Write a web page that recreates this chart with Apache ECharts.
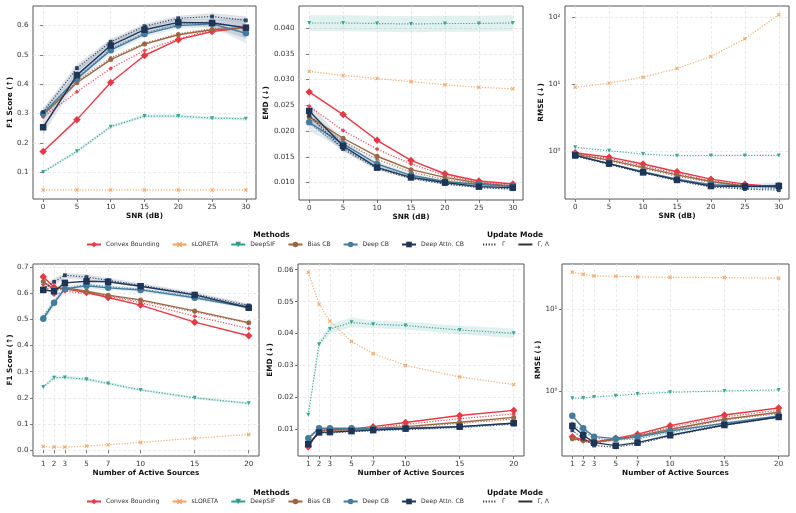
<!DOCTYPE html>
<html><head><meta charset="utf-8">
<script src="https://cdn.jsdelivr.net/npm/echarts@6/dist/echarts.min.js"></script>
<style>html,body{margin:0;padding:0;background:#fff}#c{width:796px;height:513px}</style>
</head><body><div id="c"></div><script>
// ---------- x values / ticks ----------
const snrX = [0, 5, 10, 15, 20, 25, 30];
const srcX = [1, 2, 3, 5, 7, 10, 15, 20];
const snrTicks = [0, 5, 10, 15, 20, 25, 30];
const srcTicks = [1, 2, 3, 5, 7, 10, 15, 20];
const f1SnrTicks = [0.1, 0.2, 0.3, 0.4, 0.5, 0.6];
const emdSnrTicks = [0.010, 0.015, 0.020, 0.025, 0.030, 0.035, 0.040];
const rmseSnrTicks = [1, 10, 100];
const f1SrcTicks = [0.0, 0.1, 0.2, 0.3, 0.4, 0.5, 0.6, 0.7];
const emdSrcTicks = [0.01, 0.02, 0.03, 0.04, 0.05, 0.06];
const rmseSrcTicks = [1, 10];
const methodNames = ['Convex Bounding', 'sLORETA', 'DeepSIF', 'Bias CB', 'Deep CB', 'Deep Attn. CB'];
const modeNames = ['Γ', 'Γ, Λ'];

// ---------- F1 vs SNR ----------
const fsConvexG  = [0.288, 0.374, 0.454, 0.515, 0.555, 0.586, 0.592];
const fsConvexGL = [0.170, 0.279, 0.406, 0.498, 0.552, 0.580, 0.593];
const fsSloreta  = [0.039, 0.039, 0.039, 0.039, 0.039, 0.039, 0.039];
const fsDeepsif  = [0.100, 0.171, 0.255, 0.291, 0.291, 0.284, 0.282];
const fsBiasG    = [0.290, 0.410, 0.490, 0.540, 0.572, 0.590, 0.595];
const fsBiasGL   = [0.296, 0.405, 0.484, 0.537, 0.569, 0.586, 0.593];
const fsDeepG    = [0.302, 0.420, 0.520, 0.575, 0.605, 0.612, 0.590];
const fsDeepGL   = [0.299, 0.419, 0.516, 0.571, 0.600, 0.606, 0.574];
const fsAttnG    = [0.305, 0.455, 0.545, 0.598, 0.625, 0.631, 0.618];
const fsAttnGL   = [0.253, 0.431, 0.532, 0.586, 0.611, 0.609, 0.593];
const fsAttnGLLo = [0.228, 0.410, 0.518, 0.575, 0.600, 0.595, 0.555];
const fsAttnGLHi = [0.278, 0.450, 0.546, 0.597, 0.622, 0.622, 0.625];
const fsDeepGLLo = [0.282, 0.402, 0.503, 0.561, 0.590, 0.594, 0.540];
const fsDeepGLHi = [0.316, 0.436, 0.529, 0.581, 0.610, 0.618, 0.605];
const fsAttnGLo  = [0.292, 0.440, 0.535, 0.590, 0.616, 0.620, 0.604];
const fsAttnGHi  = [0.318, 0.468, 0.555, 0.606, 0.634, 0.642, 0.632];
const fsDeepsifLo = [0.095, 0.165, 0.249, 0.285, 0.285, 0.278, 0.276];
const fsDeepsifHi = [0.105, 0.177, 0.261, 0.297, 0.297, 0.290, 0.288];

// ---------- EMD vs SNR ----------
const esConvexG  = [0.0248, 0.0201, 0.0165, 0.0136, 0.0114, 0.0101, 0.0095];
const esConvexGL = [0.0276, 0.0232, 0.0182, 0.0143, 0.0117, 0.0103, 0.0097];
const esSloreta  = [0.0316, 0.0308, 0.0302, 0.0296, 0.0290, 0.0285, 0.0282];
const esDeepsif  = [0.0410, 0.0410, 0.0409, 0.0408, 0.0409, 0.0409, 0.0410];
const esBiasG    = [0.0225, 0.0180, 0.0145, 0.0120, 0.0106, 0.0097, 0.0092];
const esBiasGL   = [0.0228, 0.0186, 0.0151, 0.0125, 0.0110, 0.0099, 0.0093];
const esDeepG    = [0.0215, 0.0167, 0.0130, 0.0110, 0.0098, 0.0092, 0.0088];
const esDeepGL   = [0.0217, 0.0175, 0.0136, 0.0114, 0.0102, 0.0096, 0.0093];
const esAttnG    = [0.0230, 0.0165, 0.0127, 0.0108, 0.0097, 0.0090, 0.0087];
const esAttnGL   = [0.0239, 0.0171, 0.0129, 0.0110, 0.0100, 0.0092, 0.0090];
const esDeepsifLo = [0.0394, 0.0394, 0.0393, 0.0392, 0.0393, 0.0393, 0.0394];
const esDeepsifHi = [0.0425, 0.0425, 0.0424, 0.0423, 0.0424, 0.0424, 0.0425];
const esAttnGLLo = [0.0215, 0.0160, 0.0124, 0.0106, 0.0096, 0.0089, 0.0086];
const esAttnGLHi = [0.0255, 0.0180, 0.0135, 0.0114, 0.0103, 0.0096, 0.0093];
const esDeepGLLo = [0.0200, 0.0165, 0.0130, 0.0110, 0.0099, 0.0093, 0.0090];
const esDeepGLHi = [0.0232, 0.0184, 0.0142, 0.0118, 0.0105, 0.0099, 0.0096];

// ---------- RMSE vs SNR ----------
const rsConvexG  = [0.92, 0.77, 0.60, 0.46, 0.36, 0.31, 0.29];
const rsConvexGL = [0.944, 0.81, 0.64, 0.49, 0.38, 0.32, 0.29];
const rsSloreta  = [8.97, 10.3, 12.7, 17.1, 25.9, 47.7, 109];
const rsDeepsif  = [1.135, 1.01, 0.90, 0.85, 0.86, 0.86, 0.86];
const rsBiasG    = [0.89, 0.71, 0.55, 0.42, 0.34, 0.30, 0.28];
const rsBiasGL   = [0.90, 0.73, 0.57, 0.44, 0.35, 0.30, 0.29];
const rsDeepG    = [0.85, 0.64, 0.48, 0.37, 0.30, 0.28, 0.275];
const rsDeepGL   = [0.86, 0.65, 0.49, 0.38, 0.315, 0.30, 0.305];
const rsAttnG    = [0.84, 0.63, 0.47, 0.36, 0.29, 0.27, 0.26];
const rsAttnGL   = [0.86, 0.65, 0.48, 0.37, 0.30, 0.295, 0.30];
const rsDeepGLLo = [0.83, 0.63, 0.47, 0.365, 0.30, 0.28, 0.27];
const rsDeepGLHi = [0.89, 0.67, 0.51, 0.395, 0.33, 0.32, 0.345];

// ---------- F1 vs number of sources ----------
const faConvexG  = [0.633, 0.594, 0.607, 0.598, 0.589, 0.563, 0.512, 0.465];
const faConvexGL = [0.662, 0.622, 0.616, 0.602, 0.583, 0.554, 0.489, 0.437];
const faSloreta  = [0.014, 0.012, 0.012, 0.016, 0.021, 0.030, 0.046, 0.060];
const faDeepsif  = [0.241, 0.277, 0.278, 0.271, 0.255, 0.230, 0.200, 0.179];
const faBiasG    = [0.641, 0.610, 0.615, 0.605, 0.590, 0.570, 0.528, 0.485];
const faBiasGL   = [0.644, 0.614, 0.621, 0.607, 0.592, 0.574, 0.532, 0.487];
const faDeepG    = [0.510, 0.567, 0.617, 0.633, 0.624, 0.615, 0.587, 0.550];
const faDeepGL   = [0.502, 0.563, 0.616, 0.628, 0.620, 0.612, 0.582, 0.545];
const faAttnG    = [0.617, 0.643, 0.668, 0.661, 0.649, 0.630, 0.596, 0.553];
const faAttnGL   = [0.612, 0.607, 0.639, 0.645, 0.643, 0.626, 0.593, 0.544];
const faDeepGLLo = [0.485, 0.548, 0.603, 0.617, 0.611, 0.604, 0.575, 0.538];
const faDeepGLHi = [0.522, 0.580, 0.630, 0.640, 0.630, 0.621, 0.590, 0.553];
const faAttnGLo  = [0.600, 0.628, 0.655, 0.650, 0.640, 0.622, 0.589, 0.546];
const faAttnGHi  = [0.632, 0.656, 0.678, 0.672, 0.658, 0.638, 0.603, 0.560];
const faDeepsifLo = [0.236, 0.270, 0.271, 0.264, 0.249, 0.225, 0.195, 0.174];
const faDeepsifHi = [0.246, 0.284, 0.285, 0.278, 0.261, 0.235, 0.205, 0.184];

// ---------- EMD vs number of sources ----------
const eaConvexG  = [0.0048, 0.0093, 0.0095, 0.0098, 0.0104, 0.0115, 0.0133, 0.0148];
const eaConvexGL = [0.0045, 0.0095, 0.0098, 0.0101, 0.0108, 0.0121, 0.0143, 0.0159];
const eaSloreta  = [0.0592, 0.0492, 0.0439, 0.0375, 0.0337, 0.0300, 0.0264, 0.0240];
const eaDeepsif  = [0.0145, 0.0366, 0.0414, 0.0435, 0.0429, 0.0425, 0.0411, 0.0401];
const eaBiasG    = [0.0050, 0.0093, 0.0096, 0.0097, 0.0100, 0.0105, 0.0118, 0.0132];
const eaBiasGL   = [0.0050, 0.0095, 0.0097, 0.0098, 0.0102, 0.0108, 0.0122, 0.0137];
const eaDeepG    = [0.0068, 0.0100, 0.0100, 0.0100, 0.0099, 0.0101, 0.0107, 0.0118];
const eaDeepGL   = [0.0072, 0.0103, 0.0103, 0.0103, 0.0101, 0.0102, 0.0108, 0.0119];
const eaAttnG    = [0.0050, 0.0088, 0.0089, 0.0092, 0.0095, 0.0099, 0.0105, 0.0116];
const eaAttnGL   = [0.0053, 0.0090, 0.0091, 0.0094, 0.0097, 0.0102, 0.0108, 0.0119];
const eaDeepsifLo = [0.0140, 0.0355, 0.0400, 0.0420, 0.0417, 0.0413, 0.0398, 0.0386];
const eaDeepsifHi = [0.0150, 0.0377, 0.0428, 0.0450, 0.0441, 0.0437, 0.0424, 0.0416];

// ---------- RMSE vs number of sources ----------
const raConvexG  = [0.262, 0.242, 0.230, 0.255, 0.285, 0.360, 0.480, 0.580];
const raConvexGL = [0.276, 0.251, 0.237, 0.263, 0.295, 0.376, 0.508, 0.619];
const raSloreta  = [28.4, 26.8, 25.6, 25.3, 24.9, 24.6, 24.4, 24.0];
const raDeepsif  = [0.813, 0.820, 0.845, 0.877, 0.919, 0.963, 1.000, 1.030];
const raBiasG    = [0.255, 0.245, 0.232, 0.250, 0.275, 0.330, 0.440, 0.530];
const raBiasGL   = [0.260, 0.250, 0.235, 0.255, 0.280, 0.340, 0.450, 0.550];
const raDeepG    = [0.400, 0.320, 0.265, 0.250, 0.260, 0.310, 0.390, 0.480];
const raDeepGL   = [0.499, 0.349, 0.276, 0.261, 0.273, 0.324, 0.402, 0.494];
const raAttnG    = [0.330, 0.260, 0.215, 0.205, 0.225, 0.280, 0.380, 0.480];
const raAttnGL   = [0.373, 0.289, 0.233, 0.214, 0.233, 0.287, 0.383, 0.481];

// ---------- styling ----------
const FONT = 'DejaVu Sans';
const COL = { convex: '#e63946', sloreta: '#f4a261', deepsif: '#2a9d8f', bias: '#9c6644', deep: '#457b9d', attn: '#1d3557' };
const X_PATH = 'path://M0,2 L2,0 L5,3 L8,0 L10,2 L7,5 L10,8 L8,10 L5,7 L2,10 L0,8 L3,5 Z';
const SYM = {
  convex: { symbol: 'diamond', big: 7.5, small: 4.5, rot: 0 },
  sloreta: { symbol: X_PATH, big: 5, small: 4, rot: 0 },
  deepsif: { symbol: 'triangle', big: 6, small: 4, rot: 180 },
  bias: { symbol: 'circle', big: 5, small: 3.5, rot: 0 },
  deep: { symbol: 'circle', big: 6.5, small: 3.5, rot: 0 },
  attn: { symbol: 'rect', big: 6.5, small: 3.8, rot: 0 }
};

const grids = [
  { left: 33, top: 6, width: 223, height: 193 },
  { left: 299, top: 6, width: 224, height: 194 },
  { left: 565, top: 6, width: 224, height: 193 },
  { left: 33, top: 264, width: 226, height: 192 },
  { left: 298, top: 264, width: 226, height: 192 },
  { left: 562, top: 264, width: 227, height: 192 }
].map(g => Object.assign(g, { show: true, borderColor: '#555', borderWidth: 1, backgroundColor: '#fff', z: 0 }));

const supDigits = { '-': '⁻', '0': '⁰', '1': '¹', '2': '²', '3': '³' };
function logLabel(v) {
  const e = Math.round(Math.log10(v));
  return '10' + String(e).split('').map(c => supDigits[c]).join('');
}

function xAxis(i, min, max, ticks, name, gap) {
  return {
    gridIndex: i, type: 'value', min, max,
    name, nameLocation: 'middle', nameGap: gap,
    nameTextStyle: { fontFamily: FONT, fontSize: 7.3, fontWeight: 'bold', color: '#111' },
    axisLine: { show: false },
    axisTick: { show: true, length: 3, lineStyle: { color: '#555', width: 0.8 }, customValues: ticks },
    axisLabel: { customValues: ticks, margin: 5, fontFamily: FONT, fontSize: 7.2, color: '#333' },
    splitLine: { show: true, customValues: ticks, lineStyle: { color: '#e2e2e2', type: [3, 2], width: 0.7 } }
  };
}
function yAxis(i, type, min, max, ticks, fmt, name, gap) {
  return {
    gridIndex: i, type, min, max, logBase: 10,
    name, nameLocation: 'middle', nameGap: gap,
    nameTextStyle: { fontFamily: FONT, fontSize: 7.3, fontWeight: 'bold', color: '#111' },
    axisLine: { show: false },
    axisTick: { show: true, length: 3, lineStyle: { color: '#555', width: 0.8 }, customValues: ticks },
    axisLabel: { customValues: ticks, margin: 4.5, fontFamily: FONT, fontSize: 7.2, color: '#333', formatter: fmt },
    splitLine: { show: true, customValues: ticks, lineStyle: { color: '#e2e2e2', type: [3, 2], width: 0.7 } }
  };
}

const xAxes = [
  xAxis(0, -1.5, 31.5, snrTicks, 'SNR (dB)', 14),
  xAxis(1, -1.5, 31.5, snrTicks, 'SNR (dB)', 14),
  xAxis(2, -1.5, 31.5, snrTicks, 'SNR (dB)', 14),
  xAxis(3, 0.05, 20.95, srcTicks, 'Number of Active Sources', 14),
  xAxis(4, 0.05, 20.95, srcTicks, 'Number of Active Sources', 14),
  xAxis(5, 0.05, 20.95, srcTicks, 'Number of Active Sources', 14)
];
const yAxes = [
  yAxis(0, 'value', 0.008, 0.667, f1SnrTicks, v => v.toFixed(1), 'F1 Score (↑)', 18),
  yAxis(1, 'value', 0.0066, 0.0443, emdSnrTicks, v => v.toFixed(3), 'EMD (↓)', 27),
  yAxis(2, 'log', 0.192, 147, rmseSnrTicks, logLabel, 'RMSE (↓)', 20),
  yAxis(3, 'value', -0.022, 0.711, f1SrcTicks, v => v.toFixed(1), 'F1 Score (↑)', 17),
  yAxis(4, 'value', 0.0016, 0.0618, emdSrcTicks, v => v.toFixed(2), 'EMD (↓)', 23),
  yAxis(5, 'log', 0.160, 35.8, rmseSrcTicks, logLabel, 'RMSE (↓)', 20)
];

const series = [];
function lineS(gi, xs, ys, key, dotted, z) {
  const s = SYM[key];
  series.push({
    type: 'line', name: key + (dotted ? '-G' : '-GL') + gi, xAxisIndex: gi, yAxisIndex: gi,
    data: xs.map((x, i) => [x, ys[i]]),
    symbol: s.symbol, symbolRotate: s.rot, symbolSize: dotted ? s.small : s.big, showSymbol: true,
    lineStyle: { color: COL[key], width: dotted ? 1.2 : 1.4, type: dotted ? [1.2, 1.6] : 'solid', opacity: dotted ? 0.9 : 1 },
    itemStyle: { color: COL[key], opacity: dotted ? 0.9 : 1 },
    z: z, silent: true, animation: false
  });
}
function bandS(gi, xs, lo, hi, key) {
  series.push({
    type: 'custom', xAxisIndex: gi, yAxisIndex: gi, silent: true, z: 1, animation: false,
    data: [[xs[0], lo[0]]],
    renderItem(params, api) {
      const pts = [];
      for (let i = 0; i < xs.length; i++) pts.push(api.coord([xs[i], hi[i]]));
      for (let i = xs.length - 1; i >= 0; i--) pts.push(api.coord([xs[i], lo[i]]));
      return { type: 'polygon', shape: { points: pts }, style: { fill: COL[key], opacity: 0.14 } };
    }
  });
}
function panel(gi, xs, d) {
  lineS(gi, xs, d.convexG, 'convex', true, 3);
  lineS(gi, xs, d.convexGL, 'convex', false, 4);
  lineS(gi, xs, d.sloreta, 'sloreta', true, 3);
  lineS(gi, xs, d.deepsif, 'deepsif', true, 3);
  lineS(gi, xs, d.biasG, 'bias', true, 5);
  lineS(gi, xs, d.biasGL, 'bias', false, 6);
  lineS(gi, xs, d.deepG, 'deep', true, 7);
  lineS(gi, xs, d.deepGL, 'deep', false, 8);
  lineS(gi, xs, d.attnG, 'attn', true, 9);
  lineS(gi, xs, d.attnGL, 'attn', false, 10);
}

bandS(0, snrX, fsDeepsifLo, fsDeepsifHi, 'deepsif');
bandS(0, snrX, fsDeepGLLo, fsDeepGLHi, 'deep');
bandS(0, snrX, fsAttnGLLo, fsAttnGLHi, 'attn');
bandS(0, snrX, fsAttnGLo, fsAttnGHi, 'attn');
panel(0, snrX, { convexG: fsConvexG, convexGL: fsConvexGL, sloreta: fsSloreta, deepsif: fsDeepsif, biasG: fsBiasG, biasGL: fsBiasGL, deepG: fsDeepG, deepGL: fsDeepGL, attnG: fsAttnG, attnGL: fsAttnGL });

bandS(1, snrX, esDeepsifLo, esDeepsifHi, 'deepsif');
bandS(1, snrX, esDeepGLLo, esDeepGLHi, 'deep');
bandS(1, snrX, esAttnGLLo, esAttnGLHi, 'attn');
panel(1, snrX, { convexG: esConvexG, convexGL: esConvexGL, sloreta: esSloreta, deepsif: esDeepsif, biasG: esBiasG, biasGL: esBiasGL, deepG: esDeepG, deepGL: esDeepGL, attnG: esAttnG, attnGL: esAttnGL });

bandS(2, snrX, rsDeepGLLo, rsDeepGLHi, 'deep');
panel(2, snrX, { convexG: rsConvexG, convexGL: rsConvexGL, sloreta: rsSloreta, deepsif: rsDeepsif, biasG: rsBiasG, biasGL: rsBiasGL, deepG: rsDeepG, deepGL: rsDeepGL, attnG: rsAttnG, attnGL: rsAttnGL });

bandS(3, srcX, faDeepsifLo, faDeepsifHi, 'deepsif');
bandS(3, srcX, faDeepGLLo, faDeepGLHi, 'deep');
bandS(3, srcX, faAttnGLo, faAttnGHi, 'attn');
panel(3, srcX, { convexG: faConvexG, convexGL: faConvexGL, sloreta: faSloreta, deepsif: faDeepsif, biasG: faBiasG, biasGL: faBiasGL, deepG: faDeepG, deepGL: faDeepGL, attnG: faAttnG, attnGL: faAttnGL });

bandS(4, srcX, eaDeepsifLo, eaDeepsifHi, 'deepsif');
panel(4, srcX, { convexG: eaConvexG, convexGL: eaConvexGL, sloreta: eaSloreta, deepsif: eaDeepsif, biasG: eaBiasG, biasGL: eaBiasGL, deepG: eaDeepG, deepGL: eaDeepGL, attnG: eaAttnG, attnGL: eaAttnGL });

panel(5, srcX, { convexG: raConvexG, convexGL: raConvexGL, sloreta: raSloreta, deepsif: raDeepsif, biasG: raBiasG, biasGL: raBiasGL, deepG: raDeepG, deepGL: raDeepGL, attnG: raAttnG, attnGL: raAttnGL });

// legend-only series
const keys = ['convex', 'sloreta', 'deepsif', 'bias', 'deep', 'attn'];
keys.forEach((k, i) => {
  const s = SYM[k];
  series.push({ type: 'line', name: methodNames[i], xAxisIndex: 0, yAxisIndex: 0, data: [],
    symbol: s.symbol, symbolRotate: s.rot, symbolSize: 7,
    lineStyle: { color: COL[k], width: 1.5 }, itemStyle: { color: COL[k] } });
});
series.push({ type: 'line', name: modeNames[0], xAxisIndex: 0, yAxisIndex: 0, data: [], symbol: 'none',
  lineStyle: { color: '#333', width: 1.2, type: [1.2, 1.6] }, itemStyle: { color: '#333' } });
series.push({ type: 'line', name: modeNames[1], xAxisIndex: 0, yAxisIndex: 0, data: [], symbol: 'none',
  lineStyle: { color: '#333', width: 1.4 }, itemStyle: { color: '#333' } });

const legendText = { fontFamily: FONT, fontSize: 6.1, color: '#333' };
function legendM(top) {
  return { data: methodNames, left: 86, top, padding: 0, itemGap: 12, itemWidth: 14, itemHeight: 7,
    textStyle: legendText, selectedMode: false };
}
function legendU(top) {
  return { data: modeNames.map(n => ({ name: n, itemStyle: { opacity: 0 } })), left: 482, top, padding: 0,
    itemGap: 12, itemWidth: 14, itemHeight: 7, textStyle: legendText, selectedMode: false };
}
const titleStyle = { fontFamily: FONT, fontSize: 7.5, fontWeight: 'bold', color: '#111' };
const option = {
  animation: false,
  backgroundColor: '#fff',
  grid: grids,
  xAxis: xAxes,
  yAxis: yAxes,
  series,
  legend: [legendM(241.5), legendU(241.5), legendM(498.5), legendU(498.5)],
  title: [
    { text: 'Methods', left: 271.5, top: 231, textAlign: 'center', padding: 0, textStyle: titleStyle },
    { text: 'Update Mode', left: 515, top: 231, textAlign: 'center', padding: 0, textStyle: titleStyle },
    { text: 'Methods', left: 271.5, top: 489, textAlign: 'center', padding: 0, textStyle: titleStyle },
    { text: 'Update Mode', left: 515, top: 489, textAlign: 'center', padding: 0, textStyle: titleStyle }
  ]
};
const chart = echarts.init(document.getElementById('c'), null, { renderer: 'canvas' });
chart.setOption(option);
</script></body></html>
